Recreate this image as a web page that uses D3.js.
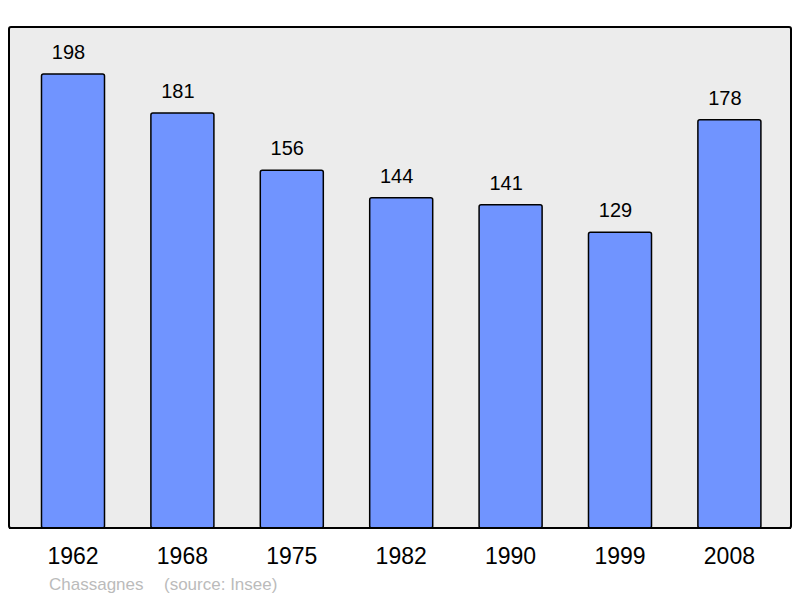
<!DOCTYPE html>
<html>
<head>
<meta charset="utf-8">
<script src="https://cdn.jsdelivr.net/npm/d3@7"></script>
<style>
  body { margin: 0; background: #fff; }
  svg { display: block; font-family: "Liberation Sans", Arial, sans-serif; }
</style>
</head>
<body>
<svg id="chart" width="800" height="598"></svg>
<script>
// population per census year
const years = ["1962", "1968", "1975", "1982", "1990", "1999", "2008"];
const population = [198, 181, 156, 144, 141, 129, 178];
const commune = "Chassagnes";
const source = "(source: Insee)";

const svg = d3.select("#chart");

// panel box
const panel = { left: 9, top: 27, right: 791, bottom: 528 };

const x = d3.scaleBand()
  .domain(years)
  .range([18.3, 784.1])
  .paddingInner(0.424)
  .paddingOuter(0.212);

const y = d3.scaleLinear()
  .domain([0, 218.5])
  .range([panel.bottom, panel.top]);

svg.append("rect")
  .attr("x", panel.left)
  .attr("y", panel.top)
  .attr("width", panel.right - panel.left)
  .attr("height", panel.bottom - panel.top)
  .attr("rx", 2)
  .attr("fill", "#ececec")
  .attr("stroke", "#000")
  .attr("stroke-width", 2);

svg.selectAll(".bar")
  .data(population)
  .enter()
  .append("rect")
  .attr("class", "bar")
  .attr("x", (d, i) => x(years[i]))
  .attr("y", d => y(d))
  .attr("width", x.bandwidth())
  .attr("height", d => panel.bottom - y(d))
  .attr("rx", 2)
  .attr("fill", "#7094ff")
  .attr("stroke", "#000")
  .attr("stroke-width", 1.5);

// redraw the bottom border over bar bottoms
svg.append("line")
  .attr("x1", panel.left).attr("x2", panel.right)
  .attr("y1", panel.bottom).attr("y2", panel.bottom)
  .attr("stroke", "#000")
  .attr("stroke-width", 2);

svg.selectAll(".val")
  .data(population)
  .enter()
  .append("text")
  .attr("class", "val")
  .attr("x", (d, i) => x(years[i]) + x.bandwidth() / 2 - 4.5)
  .attr("y", d => y(d) - 15)
  .attr("text-anchor", "middle")
  .attr("font-size", 20)
  .attr("fill", "#000")
  .text(d => d);

svg.selectAll(".year")
  .data(years)
  .enter()
  .append("text")
  .attr("class", "year")
  .attr("x", d => x(d) + x.bandwidth() / 2)
  .attr("y", 564)
  .attr("text-anchor", "middle")
  .attr("font-size", 23)
  .attr("fill", "#000")
  .text(d => d);

svg.append("text")
  .attr("x", 49)
  .attr("y", 590)
  .attr("font-size", 17)
  .attr("fill", "#bbb")
  .text(commune);

svg.append("text")
  .attr("x", 164)
  .attr("y", 590)
  .attr("font-size", 17)
  .attr("fill", "#bbb")
  .text(source);
</script>
</body>
</html>
